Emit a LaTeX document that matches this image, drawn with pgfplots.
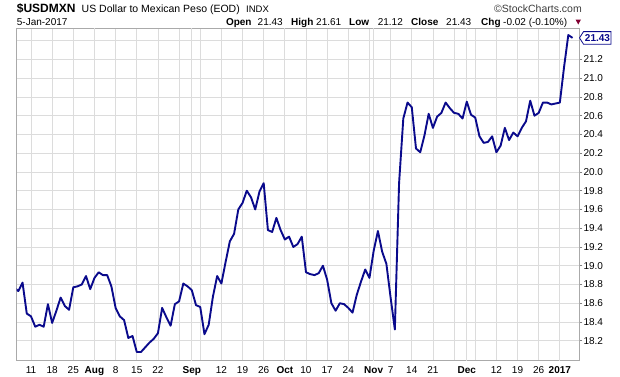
\documentclass[border=0pt]{standalone}
\usepackage{pgfplots}
\pgfplotsset{compat=1.18}
\usepackage{pgfplotstable}
\usepackage{fontspec}
\setmainfont{Liberation Sans}
\definecolor{navyline}{RGB}{10,10,140}
\definecolor{gridlight}{RGB}{220,220,220}
\definecolor{griddark}{RGB}{180,180,180}
\definecolor{bordergray}{RGB}{170,170,170}
\definecolor{chgred}{RGB}{130,0,50}
\definecolor{hdrgray}{RGB}{60,60,60}
\pgfplotstableread{
i v
-1 18.77
0 18.73
1 18.82
2 18.49
3 18.46
4 18.35
5 18.37
6 18.35
7 18.59
8 18.39
9 18.52
10 18.66
11 18.57
12 18.53
13 18.77
14 18.78
15 18.80
16 18.89
17 18.75
18 18.87
19 18.93
20 18.90
21 18.90
22 18.78
23 18.55
24 18.46
25 18.42
26 18.23
27 18.25
28 18.08
29 18.08
30 18.13
31 18.18
32 18.22
33 18.28
34 18.55
35 18.45
36 18.36
37 18.59
38 18.62
39 18.81
40 18.78
41 18.74
42 18.58
43 18.56
44 18.27
45 18.37
46 18.67
47 18.89
48 18.81
49 19.04
50 19.26
51 19.34
52 19.60
53 19.67
54 19.80
55 19.73
56 19.60
57 19.79
58 19.88
59 19.38
60 19.36
61 19.51
62 19.38
63 19.28
64 19.31
65 19.20
66 19.23
67 19.31
68 18.93
69 18.91
70 18.90
71 18.92
72 19.00
73 18.85
74 18.60
75 18.52
76 18.60
77 18.59
78 18.55
79 18.50
80 18.69
81 18.83
82 18.96
83 18.87
84 19.16
85 19.37
86 19.15
87 19.02
88 18.66
89 18.32
90 19.88
91 20.57
92 20.74
93 20.69
94 20.25
95 20.21
96 20.39
97 20.62
98 20.47
99 20.59
100 20.63
101 20.74
102 20.68
103 20.63
104 20.62
105 20.57
106 20.75
107 20.61
108 20.58
109 20.38
110 20.31
111 20.32
112 20.38
113 20.21
114 20.28
115 20.47
116 20.34
117 20.42
118 20.38
119 20.47
120 20.54
121 20.76
122 20.60
123 20.63
124 20.74
125 20.74
126 20.72
127 20.73
128 20.74
129 21.12
130 21.46
131 21.43
}\usdmxn
\begin{document}
\begin{tikzpicture}[x=1pt,y=1pt]
\useasboundingbox (0,0) rectangle (620,376);
\begin{axis}[
  at={(16.7pt,15.3pt)}, anchor=south west,
  scale only axis, width=562.6pt, height=332.4pt,
  xmin=-0.38, xmax=132.6, ymin=17.987, ymax=21.532,
  axis line style={draw=bordergray, line width=0.8pt},
  xtick={3,8,13,23,28,33,38,43,48,53,58,68,73,78,83,88,93,98,103,108,113,118,123},
  xticklabels={11,18,25,8,15,22,,,12,19,26,10,17,24,,7,14,21,,,12,19,26},
  extra x ticks={18,41,63,84,106,128},
  extra x tick labels={\textbf{Aug},\textbf{Sep},\textbf{Oct},\textbf{Nov},\textbf{Dec},\textbf{2017}},
  xmajorgrids,
  major grid style={draw=gridlight, line width=0.8pt},
  extra x tick style={grid style={draw=griddark, line width=0.8pt}},
  x tick style={draw=none},
  ytick={18.2,18.4,18.6,18.8,19.0,19.2,19.4,19.6,19.8,20.0,20.2,20.4,20.6,20.8,21.0,21.2},
  extra y ticks={21.4},
  extra y tick labels={},
  extra y tick style={grid style={draw=gridlight, line width=0.8pt}, major tick length=0pt},
  ymajorgrids,
  ytick pos=right, yticklabel pos=right,
  tick align=outside, major tick length=3pt,
  y tick style={draw=gray, line width=0.6pt},
  yticklabel style={font=\fontsize{10}{12}\selectfont, anchor=west, inner sep=0pt, xshift=1pt,
    /pgf/number format/.cd, fixed, fixed zerofill, precision=1, assume math mode=true},
  xticklabel style={font=\fontsize{10}{12}\selectfont, anchor=north, inner sep=0pt, yshift=-3pt},
  /pgf/number format/assume math mode=true,
]
\addplot[navyline, line width=1.9pt, line join=round] table[x=i, y=v] {\usdmxn};
\end{axis}
% header
\node[anchor=base west, inner sep=0pt] at (16.7,363) {\fontsize{12}{14}\selectfont\textbf{\$USDMXN}};
\node[anchor=base west, inner sep=0pt] at (81.5,363) {\fontsize{10.5}{12}\selectfont US Dollar to Mexican Peso (EOD)};
\node[anchor=base west, inner sep=0pt] at (246,363) {\fontsize{9.5}{12}\selectfont INDX};
\node[anchor=base east, inner sep=0pt, text=hdrgray] at (582,363) {\fontsize{10.5}{12}\selectfont \textcopyright StockCharts.com};
\node[anchor=base west, inner sep=0pt] at (16.7,350.5) {\fontsize{10}{12}\selectfont 5-Jan-2017};
\node[anchor=base west, inner sep=0pt] at (225.8,350.5) {\fontsize{10}{12}\selectfont\textbf{Open}};
\node[anchor=base west, inner sep=0pt] at (257.5,350.5) {\fontsize{10}{12}\selectfont 21.43};
\node[anchor=base west, inner sep=0pt] at (291,350.5) {\fontsize{10}{12}\selectfont\textbf{High}};
\node[anchor=base west, inner sep=0pt] at (316,350.5) {\fontsize{10}{12}\selectfont 21.61};
\node[anchor=base west, inner sep=0pt] at (349,350.5) {\fontsize{10}{12}\selectfont\textbf{Low}};
\node[anchor=base west, inner sep=0pt] at (377.6,350.5) {\fontsize{10}{12}\selectfont 21.12};
\node[anchor=base west, inner sep=0pt] at (411,350.5) {\fontsize{10}{12}\selectfont\textbf{Close}};
\node[anchor=base west, inner sep=0pt] at (446,350.5) {\fontsize{10}{12}\selectfont 21.43};
\node[anchor=base west, inner sep=0pt] at (481,350.5) {\fontsize{10}{12}\selectfont\textbf{Chg}};
\node[anchor=base west, inner sep=0pt] at (503,350.5) {\fontsize{10}{12}\selectfont -0.02 (-0.10\%)};
\fill[chgred] (575.5,356.5) -- (581,356.5) -- (578.25,351.5) -- cycle;
% last value box
\draw[navyline, fill=white, line width=0.8pt] (579.5,338.1) -- (583.5,344.4) -- (611,344.4) -- (611,331.8) -- (583.5,331.8) -- cycle;
\node[inner sep=0pt, text=navyline] at (597.5,338.1) {\fontsize{10}{12}\selectfont\textbf{21.43}};
\end{tikzpicture}
\end{document}
